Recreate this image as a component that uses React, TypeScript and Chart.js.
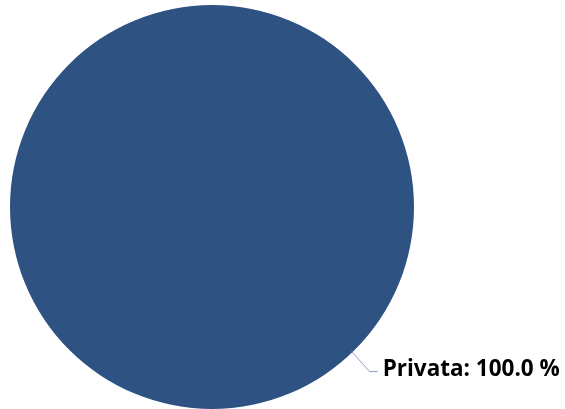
import React, { useEffect, useRef } from "react";
import { Chart, registerables } from "chart.js";

Chart.register(...registerables);

const categories: string[] = ["Privata"];
const values: number[] = [100.0];
const colors: string[] = ["#2E5282"];

const leaderPlugin = {
  id: "leaderLabels",
  afterDatasetsDraw(chart: any) {
    const ctx = chart.ctx;
    const meta = chart.getDatasetMeta(0);
    const total = values.reduce((a, b) => a + b, 0);
    meta.data.forEach((arc: any, i: number) => {
      const ang = (46 * Math.PI) / 180;
      const r = arc.outerRadius;
      const x0 = arc.x + Math.cos(ang) * (r - 1);
      const y0 = arc.y + Math.sin(ang) * (r - 1);
      const x1 = x0 + 18;
      const y1 = y0 + 20;
      const x2 = x1 + 8;
      ctx.save();
      ctx.strokeStyle = "#8BA0BF";
      ctx.lineWidth = 1;
      ctx.beginPath();
      ctx.moveTo(x0, y0);
      ctx.lineTo(x1, y1);
      ctx.lineTo(x2, y1);
      ctx.stroke();
      ctx.fillStyle = "#000000";
      ctx.font = "bold 22.5px 'Open Sans', sans-serif";
      ctx.textBaseline = "middle";
      ctx.textAlign = "left";
      const pct = ((values[i] / total) * 100).toFixed(1);
      ctx.fillText(`${categories[i]}: ${pct} %`, x2 + 5, y1 - 2);
      ctx.restore();
    });
  },
};

export default function App() {
  const ref = useRef<HTMLCanvasElement | null>(null);
  useEffect(() => {
    document.body.style.margin = "0";
    const chart = new Chart(ref.current as HTMLCanvasElement, {
      type: "pie",
      data: {
        labels: categories,
        datasets: [
          {
            data: values,
            backgroundColor: colors,
            borderWidth: 0,
          },
        ],
      },
      options: {
        animation: false,
        responsive: false,
        maintainAspectRatio: false,
        layout: { padding: { left: 10, top: 5, right: 151, bottom: 0 } },
        plugins: {
          legend: { display: false },
          tooltip: { enabled: false },
          title: { display: false },
        },
      },
      plugins: [leaderPlugin],
    });
    return () => chart.destroy();
  }, []);
  return (
    <div style={{ position: "absolute", left: 0, top: 0, width: 565, height: 409 }}>
      <canvas ref={ref} width={565} height={409} style={{ width: 565, height: 409 }} />
    </div>
  );
}
